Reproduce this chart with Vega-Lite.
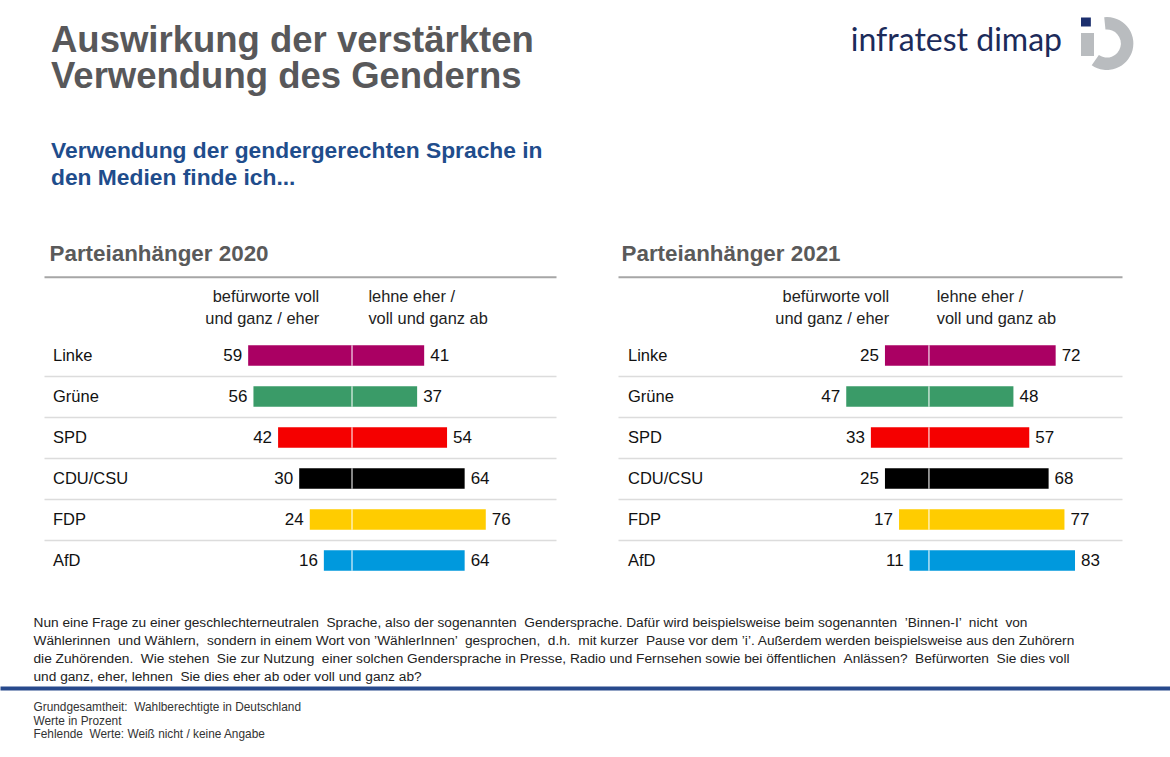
{
  "$schema": "https://vega.github.io/schema/vega-lite/v6.json",
  "padding": {"left": 33, "right": 36.5, "top": 17, "bottom": 0},
  "background": "white",
  "config": {
    "font": "Liberation Sans",
    "view": {"stroke": null},
    "axis": {"grid": false}
  },
  "datasets": {
    "d2020": [
      {"partei": "Linke", "pro": 59, "contra": 41},
      {"partei": "Grüne", "pro": 56, "contra": 37},
      {"partei": "SPD", "pro": 42, "contra": 54},
      {"partei": "CDU/CSU", "pro": 30, "contra": 64},
      {"partei": "FDP", "pro": 24, "contra": 76},
      {"partei": "AfD", "pro": 16, "contra": 64}
    ],
    "d2021": [
      {"partei": "Linke", "pro": 25, "contra": 72},
      {"partei": "Grüne", "pro": 47, "contra": 48},
      {"partei": "SPD", "pro": 33, "contra": 57},
      {"partei": "CDU/CSU", "pro": 25, "contra": 68},
      {"partei": "FDP", "pro": 17, "contra": 77},
      {"partei": "AfD", "pro": 11, "contra": 83}
    ]
  },
  "hconcat": [
    {
      "width": 512,
      "height": 287,
      "title": {
        "text": ["Auswirkung der verstärkten", "Verwendung des Genderns"],
        "subtitle": ["Verwendung der gendergerechten Sprache in", "den Medien finde ich..."],
        "anchor": "start", "frame": "group", "dx": 7, "offset": 52.5,
        "fontSize": 36.5, "font": "Liberation Sans", "fontWeight": "bold", "color": "#58585a", "lineHeight": 35.5,
        "subtitleFontSize": 22.8, "subtitleFont": "Liberation Sans", "subtitleFontWeight": "bold", "subtitleColor": "#1f4d8c",
        "subtitleLineHeight": 26.6, "subtitlePadding": 45
      },
      "data": {"name": "d2020"},
      "resolve": {"scale": {"x": "independent", "y": "independent"}, "axis": {"x": "independent", "y": "independent"}},
      "layer": [
        {
          "mark": {"type": "bar"},
          "encoding": {
            "x": {"field": "pro", "type": "quantitative",
              "scale": {"domain": [-115.9, 175], "reverse": true, "nice": false, "zero": false},
              "axis": {"orient": "bottom", "domain": false, "ticks": false, "labels": false, "grid": false,
                "title": [
                  "Nun eine Frage zu einer geschlechterneutralen \u00a0Sprache, also der sogenannten \u00a0Gendersprache. Dafür wird beispielsweise beim sogenannten \u00a0’Binnen-I’ \u00a0nicht \u00a0von",
                  "Wählerinnen \u00a0und Wählern, \u00a0sondern in einem Wort von ’WählerInnen’ \u00a0gesprochen, \u00a0d.h. \u00a0mit kurzer \u00a0Pause vor dem ’i’. Außerdem werden beispielsweise aus den Zuhörern",
                  "die Zuhörenden. \u00a0Wie stehen \u00a0Sie zur Nutzung \u00a0einer solchen Gendersprache in Presse, Radio und Fernsehen sowie bei öffentlichen \u00a0Anlässen? \u00a0Befürworten \u00a0Sie dies voll",
                  "und ganz, eher, lehnen \u00a0Sie dies eher ab oder voll und ganz ab?"
                ],
                "titleAnchor": "start", "titleAlign": "left", "titleBaseline": "top", "titleX": -11, "titlePadding": 34,
                "titleFontSize": 13.7, "titleFontWeight": "normal", "titleColor": "#222222", "titleLineHeight": 18.3, "titleLimit": 1300}},
            "x2": {"datum": 0},
            "y": {"field": "partei", "type": "nominal",
              "scale": {"domain": ["kopf", "Linke", "Grüne", "SPD", "CDU/CSU", "FDP", "AfD"], "paddingInner": 0.5, "paddingOuter": 0.25},
              "axis": {"orient": "left", "domain": false, "ticks": false, "labels": false, "title": null, "grid": true,
                "gridColor": "#dcdcdc", "gridWidth": 1.5, "bandPosition": 1.5,
                "values": ["Linke", "Grüne", "SPD", "CDU/CSU", "FDP"]}},
            "color": {"field": "partei", "type": "nominal",
              "scale": {"domain": ["Linke", "Grüne", "SPD", "CDU/CSU", "FDP", "AfD"], "range": ["#aa0063", "#3a9b68", "#f50000", "#000000", "#ffcc00", "#0099dd"]},
              "legend": null}
          }
        },
        {
          "mark": {"type": "text", "align": "right", "baseline": "middle", "dx": -6, "fontSize": 17, "color": "#111111"},
          "encoding": {
            "x": {"field": "pro", "type": "quantitative", "scale": {"domain": [-115.9, 175], "reverse": true, "nice": false, "zero": false}, "axis": null},
            "y": {"field": "partei", "type": "nominal", "scale": {"domain": ["kopf", "Linke", "Grüne", "SPD", "CDU/CSU", "FDP", "AfD"], "paddingInner": 0.5, "paddingOuter": 0.25}, "axis": null},
            "text": {"field": "pro", "type": "quantitative"}
          }
        },
        {
          "data": {"values": [{}]},
          "mark": {"type": "text", "align": "right", "baseline": "middle", "dy": -17.5, "fontSize": 16.4, "lineHeight": 22, "color": "#222222"},
          "encoding": {
            "x": {"datum": 18.6, "type": "quantitative", "scale": {"domain": [-115.9, 175], "reverse": true, "nice": false, "zero": false}, "axis": null},
            "y": {"datum": "kopf", "type": "nominal", "scale": {"domain": ["kopf", "Linke", "Grüne", "SPD", "CDU/CSU", "FDP", "AfD"], "paddingInner": 0.5, "paddingOuter": 0.25}, "axis": null},
            "text": {"value": ["befürworte voll", "und ganz / eher"]}
          }
        },
        {
          "mark": {"type": "bar"},
          "encoding": {
            "x": {"field": "contra", "type": "quantitative",
              "scale": {"domain": [-175, 115.9], "nice": false, "zero": false},
              "axis": {"orient": "top", "offset": 17.3, "domainColor": "#a6a6a6", "domainWidth": 2, "ticks": false, "labels": false, "grid": false,
                "title": "Parteianhänger 2020", "titleAnchor": "start", "titleAlign": "left", "titleBaseline": "alphabetic",
                "titleX": 5, "titlePadding": 16.5, "titleFontSize": 22.4, "titleFontWeight": "bold", "titleColor": "#5a5a5a"}},
            "x2": {"datum": 0},
            "y": {"field": "partei", "type": "nominal", "scale": {"domain": ["kopf", "Linke", "Grüne", "SPD", "CDU/CSU", "FDP", "AfD"], "paddingInner": 0.5, "paddingOuter": 0.25}, "axis": null},
            "color": {"field": "partei", "type": "nominal",
              "scale": {"domain": ["Linke", "Grüne", "SPD", "CDU/CSU", "FDP", "AfD"], "range": ["#aa0063", "#3a9b68", "#f50000", "#000000", "#ffcc00", "#0099dd"]},
              "legend": null}
          }
        },
        {
          "mark": {"type": "tick", "color": "white", "thickness": 1.5, "size": 20.5},
          "encoding": {
            "x": {"datum": 0, "type": "quantitative", "scale": {"domain": [-175, 115.9], "nice": false, "zero": false}, "axis": null},
            "y": {"field": "partei", "type": "nominal", "scale": {"domain": ["kopf", "Linke", "Grüne", "SPD", "CDU/CSU", "FDP", "AfD"], "paddingInner": 0.5, "paddingOuter": 0.25}, "axis": null}
          }
        },
        {
          "mark": {"type": "text", "align": "left", "baseline": "middle", "dx": 6, "fontSize": 17, "color": "#111111"},
          "encoding": {
            "x": {"field": "contra", "type": "quantitative", "scale": {"domain": [-175, 115.9], "nice": false, "zero": false}, "axis": null},
            "y": {"field": "partei", "type": "nominal", "scale": {"domain": ["kopf", "Linke", "Grüne", "SPD", "CDU/CSU", "FDP", "AfD"], "paddingInner": 0.5, "paddingOuter": 0.25}, "axis": null},
            "text": {"field": "contra", "type": "quantitative"}
          }
        },
        {
          "mark": {"type": "text", "align": "left", "baseline": "middle", "fontSize": 16.5, "color": "#111111"},
          "encoding": {
            "x": {"datum": -169.9, "type": "quantitative", "scale": {"domain": [-175, 115.9], "nice": false, "zero": false}, "axis": null},
            "y": {"field": "partei", "type": "nominal", "scale": {"domain": ["kopf", "Linke", "Grüne", "SPD", "CDU/CSU", "FDP", "AfD"], "paddingInner": 0.5, "paddingOuter": 0.25}, "axis": null},
            "text": {"field": "partei", "type": "nominal"}
          }
        },
        {
          "data": {"values": [{}]},
          "mark": {"type": "text", "align": "left", "baseline": "middle", "dy": -17.5, "fontSize": 16.4, "lineHeight": 22, "color": "#222222"},
          "encoding": {
            "x": {"datum": 9.3, "type": "quantitative", "scale": {"domain": [-175, 115.9], "nice": false, "zero": false}, "axis": null},
            "y": {"datum": "kopf", "type": "nominal", "scale": {"domain": ["kopf", "Linke", "Grüne", "SPD", "CDU/CSU", "FDP", "AfD"], "paddingInner": 0.5, "paddingOuter": 0.25}, "axis": null},
            "text": {"value": ["lehne eher /", "voll und ganz ab"]}
          }
        },
        {
          "data": {"values": [{}]},
          "mark": {"type": "text"},
          "encoding": {
            "x": {"datum": 0.5, "type": "quantitative",
              "scale": {"domain": [0, 1], "range": [-44, 1126]},
              "axis": {"orient": "bottom", "offset": 107, "domain": true, "domainColor": "#27498c", "domainWidth": 4,
                "ticks": false, "labels": false, "grid": false,
                "title": ["Grundgesamtheit: \u00a0Wahlberechtigte in Deutschland", "Werte in Prozent", "Fehlende \u00a0Werte: Weiß nicht / keine Angabe"],
                "titleAnchor": "start", "titleAlign": "left", "titleBaseline": "top", "titleX": -11, "titlePadding": 13.3,
                "titleFontSize": 11.85, "titleFontWeight": "normal", "titleColor": "#333333", "titleLineHeight": 13.8, "titleLimit": 1000}},
            "text": {"value": ""}
          }
        }
      ]
    },
    {
      "width": 504,
      "height": 287,
      "title": {
        "text": "infratest dimap",
        "anchor": "end", "frame": "group", "dx": -60, "offset": -41.4,
        "fontSize": 32, "font": "Lato", "fontWeight": "normal", "color": "#1c2b5a"
      },
      "data": {"name": "d2021"},
      "resolve": {"scale": {"x": "independent", "y": "independent"}, "axis": {"x": "independent", "y": "independent"}},
      "layer": [
        {
          "mark": {"type": "bar"},
          "encoding": {
            "x": {"field": "pro", "type": "quantitative",
              "scale": {"domain": [-109.7, 176.7], "reverse": true, "nice": false, "zero": false}, "axis": null},
            "x2": {"datum": 0},
            "y": {"field": "partei", "type": "nominal",
              "scale": {"domain": ["kopf", "Linke", "Grüne", "SPD", "CDU/CSU", "FDP", "AfD"], "paddingInner": 0.5, "paddingOuter": 0.25},
              "axis": {"orient": "left", "domain": false, "ticks": false, "labels": false, "title": null, "grid": true,
                "gridColor": "#dcdcdc", "gridWidth": 1.5, "bandPosition": 1.5,
                "values": ["Linke", "Grüne", "SPD", "CDU/CSU", "FDP"]}},
            "color": {"field": "partei", "type": "nominal",
              "scale": {"domain": ["Linke", "Grüne", "SPD", "CDU/CSU", "FDP", "AfD"], "range": ["#aa0063", "#3a9b68", "#f50000", "#000000", "#ffcc00", "#0099dd"]},
              "legend": null}
          }
        },
        {
          "mark": {"type": "text", "align": "right", "baseline": "middle", "dx": -6, "fontSize": 17, "color": "#111111"},
          "encoding": {
            "x": {"field": "pro", "type": "quantitative", "scale": {"domain": [-109.7, 176.7], "reverse": true, "nice": false, "zero": false}, "axis": null},
            "y": {"field": "partei", "type": "nominal", "scale": {"domain": ["kopf", "Linke", "Grüne", "SPD", "CDU/CSU", "FDP", "AfD"], "paddingInner": 0.5, "paddingOuter": 0.25}, "axis": null},
            "text": {"field": "pro", "type": "quantitative"}
          }
        },
        {
          "data": {"values": [{}]},
          "mark": {"type": "text", "align": "right", "baseline": "middle", "dy": -17.5, "fontSize": 16.4, "lineHeight": 22, "color": "#222222"},
          "encoding": {
            "x": {"datum": 22.6, "type": "quantitative", "scale": {"domain": [-109.7, 176.7], "reverse": true, "nice": false, "zero": false}, "axis": null},
            "y": {"datum": "kopf", "type": "nominal", "scale": {"domain": ["kopf", "Linke", "Grüne", "SPD", "CDU/CSU", "FDP", "AfD"], "paddingInner": 0.5, "paddingOuter": 0.25}, "axis": null},
            "text": {"value": ["befürworte voll", "und ganz / eher"]}
          }
        },
        {
          "mark": {"type": "bar"},
          "encoding": {
            "x": {"field": "contra", "type": "quantitative",
              "scale": {"domain": [-176.7, 109.7], "nice": false, "zero": false},
              "axis": {"orient": "top", "offset": 17.3, "domainColor": "#a6a6a6", "domainWidth": 2, "ticks": false, "labels": false, "grid": false,
                "title": "Parteianhänger 2021", "titleAnchor": "start", "titleAlign": "left", "titleBaseline": "alphabetic",
                "titleX": 3, "titlePadding": 16.5, "titleFontSize": 22.4, "titleFontWeight": "bold", "titleColor": "#5a5a5a"}},
            "x2": {"datum": 0},
            "y": {"field": "partei", "type": "nominal", "scale": {"domain": ["kopf", "Linke", "Grüne", "SPD", "CDU/CSU", "FDP", "AfD"], "paddingInner": 0.5, "paddingOuter": 0.25}, "axis": null},
            "color": {"field": "partei", "type": "nominal",
              "scale": {"domain": ["Linke", "Grüne", "SPD", "CDU/CSU", "FDP", "AfD"], "range": ["#aa0063", "#3a9b68", "#f50000", "#000000", "#ffcc00", "#0099dd"]},
              "legend": null}
          }
        },
        {
          "mark": {"type": "tick", "color": "white", "thickness": 1.5, "size": 20.5},
          "encoding": {
            "x": {"datum": 0, "type": "quantitative", "scale": {"domain": [-176.7, 109.7], "nice": false, "zero": false}, "axis": null},
            "y": {"field": "partei", "type": "nominal", "scale": {"domain": ["kopf", "Linke", "Grüne", "SPD", "CDU/CSU", "FDP", "AfD"], "paddingInner": 0.5, "paddingOuter": 0.25}, "axis": null}
          }
        },
        {
          "mark": {"type": "text", "align": "left", "baseline": "middle", "dx": 6, "fontSize": 17, "color": "#111111"},
          "encoding": {
            "x": {"field": "contra", "type": "quantitative", "scale": {"domain": [-176.7, 109.7], "nice": false, "zero": false}, "axis": null},
            "y": {"field": "partei", "type": "nominal", "scale": {"domain": ["kopf", "Linke", "Grüne", "SPD", "CDU/CSU", "FDP", "AfD"], "paddingInner": 0.5, "paddingOuter": 0.25}, "axis": null},
            "text": {"field": "contra", "type": "quantitative"}
          }
        },
        {
          "mark": {"type": "text", "align": "left", "baseline": "middle", "fontSize": 16.5, "color": "#111111"},
          "encoding": {
            "x": {"datum": -171, "type": "quantitative", "scale": {"domain": [-176.7, 109.7], "nice": false, "zero": false}, "axis": null},
            "y": {"field": "partei", "type": "nominal", "scale": {"domain": ["kopf", "Linke", "Grüne", "SPD", "CDU/CSU", "FDP", "AfD"], "paddingInner": 0.5, "paddingOuter": 0.25}, "axis": null},
            "text": {"field": "partei", "type": "nominal"}
          }
        },
        {
          "data": {"values": [{}]},
          "mark": {"type": "text", "align": "left", "baseline": "middle", "dy": -17.5, "fontSize": 16.4, "lineHeight": 22, "color": "#222222"},
          "encoding": {
            "x": {"datum": 4.4, "type": "quantitative", "scale": {"domain": [-176.7, 109.7], "nice": false, "zero": false}, "axis": null},
            "y": {"datum": "kopf", "type": "nominal", "scale": {"domain": ["kopf", "Linke", "Grüne", "SPD", "CDU/CSU", "FDP", "AfD"], "paddingInner": 0.5, "paddingOuter": 0.25}, "axis": null},
            "text": {"value": ["lehne eher /", "voll und ganz ab"]}
          }
        },
        {
          "data": {"values": [{}]},
          "mark": {"type": "arc", "radius": 26.5, "radius2": 14, "theta": -0.1, "theta2": 3.75, "color": "#b9bcbf"},
          "encoding": {
            "x": {"datum": 101.1, "type": "quantitative", "scale": {"domain": [-176.7, 109.7], "nice": false, "zero": false}, "axis": null},
            "y": {"datum": -250.5, "type": "quantitative", "scale": {"domain": [0, 287], "reverse": true, "nice": false, "zero": false}, "axis": null}
          }
        },
        {
          "data": {"values": [{}]},
          "mark": {"type": "rect", "color": "#b9bcbf"},
          "encoding": {
            "x": {"datum": 86.4, "type": "quantitative", "scale": {"domain": [-176.7, 109.7], "nice": false, "zero": false}, "axis": null},
            "x2": {"datum": 93.8},
            "y": {"datum": -261, "type": "quantitative", "scale": {"domain": [0, 287], "reverse": true, "nice": false, "zero": false}, "axis": null},
            "y2": {"datum": -238}
          }
        },
        {
          "data": {"values": [{}]},
          "mark": {"type": "rect", "color": "#1c2f6e"},
          "encoding": {
            "x": {"datum": 86.4, "type": "quantitative", "scale": {"domain": [-176.7, 109.7], "nice": false, "zero": false}, "axis": null},
            "x2": {"datum": 92.0},
            "y": {"datum": -276.5, "type": "quantitative", "scale": {"domain": [0, 287], "reverse": true, "nice": false, "zero": false}, "axis": null},
            "y2": {"datum": -267.5}
          }
        }
      ]
    }
  ],
  "bounds": "flush",
  "spacing": 62
}
